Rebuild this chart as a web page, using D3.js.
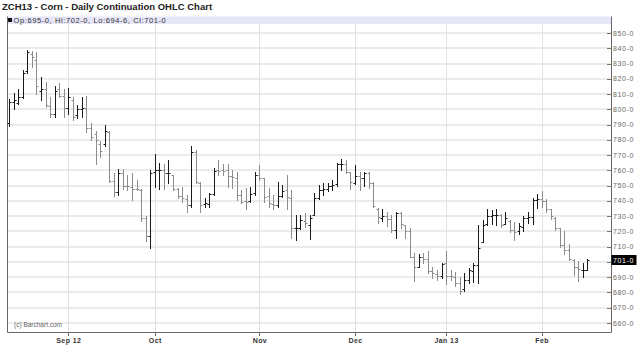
<!DOCTYPE html>
<html>
<head>
<meta charset="utf-8">
<script src="https://cdn.jsdelivr.net/npm/d3@7"></script>
<style>
body { margin: 0; background: #fff; }
svg { display: block; font-family: "Liberation Sans", Arial, sans-serif; }
</style>
</head>
<body>
<svg width="640" height="363"></svg>
<script>

// ---- data ----------------------------------------------------------------
var title = "ZCH13 - Corn - Daily Continuation OHLC Chart";
var firstDay = "2012-08-15";
var lastDay = "2013-02-15";
var holidays = ["2012-09-03", "2012-11-22", "2012-12-25", "2013-01-01", "2013-01-21"];

var monthTicks = ["2012-09", "2012-10", "2012-11", "2012-12", "2013-01", "2013-02"];
var monthLabels = ["Sep 12", "Oct", "Nov", "Dec", "Jan 13", "Feb"];

var priceTicks = [660, 670, 680, 690, 700, 710, 720, 730, 740, 750, 760, 770, 780, 790, 800, 810, 820, 830, 840, 850];

var open = [791, 805, 804, 808, 825, 836, 832, 812, 813, 802, 797, 813, 809,
    801, 806, 796, 800, 801, 788, 784, 777, 777, 785, 753, 746, 758, 750, 749, 748, 747, 729, 717,
    759, 760, 760, 758, 757, 748, 743, 741, 737, 772, 752, 738, 738, 744.5, 760, 760, 760, 756, 755, 744, 740, 740, 745,
    757, 755, 743, 738, 737, 743, 747, 742, 722, 722, 727, 724, 731, 742, 747, 748, 750, 751, 764, 764.5, 759, 752,
    756, 755, 758, 751.75, 735, 729, 730, 728, 721, 732, 724, 720, 703, 697, 703, 702, 694, 692, 691,
    699, 691, 690, 686, 682, 688, 694, 698, 713, 725, 730, 731, 731, 725, 727, 721, 720, 723, 729, 729.5, 740.5,
    741, 740, 735, 729, 722, 711, 708, 701, 697, 695, 695];
var high = [807, 810.5, 813.5, 825.5, 839, 838.5, 837.5, 821, 818, 808, 815, 817, 813,
    814, 808, 803, 808, 809, 791, 786, 779, 790, 786, 758, 761, 761, 757, 758, 753.5, 748, 730, 760,
    771, 765, 764.5, 766.5, 757, 748.25, 749.25, 744, 776, 773.25, 752.5, 741.75, 745, 761.25, 766.75, 764.5, 764.5, 760.25, 759, 747, 748.25, 749.25, 759,
    763.5, 755, 748.25, 744, 752.5, 750.5, 757, 747, 730.75, 730.75, 731.75, 731, 745.5, 750.5, 752, 752, 754, 765, 767.5, 767, 759,
    763.5, 759, 759, 759, 752.5, 735.5, 734.5, 733, 731, 733, 733, 724.25, 722, 706, 705, 706, 707, 697, 695,
    699, 707, 694.75, 693.5, 690, 692.5, 695.75, 699, 724.25, 727.5, 735, 734, 734.5, 731.5, 733, 727.5, 726.5, 725.5, 730, 732.5, 741.75,
    744.5, 746.5, 741.5, 735, 729.5, 722, 720, 711.5, 702, 700.5, 699, 702];
var low = [789, 800.5, 803.5, 807.5, 823.5, 828, 810, 806, 801.5, 795, 795, 808, 795,
    797, 793, 794, 795, 785, 780, 764, 768.5, 776, 752.5, 743, 744, 748, 747, 740.5, 747, 727, 714, 709,
    749, 748, 748, 751.5, 747, 741.75, 739.5, 733, 736, 751.5, 733, 736.25, 736.25, 744, 757, 757, 749.25, 748.25, 740.5, 738.5, 735, 739.5, 744,
    753.75, 739.5, 736.25, 735, 736.25, 742.75, 735, 715.5, 714.5, 721.5, 723, 715, 731, 741, 743.75, 746.5, 747, 749.5, 760, 758.5, 748,
    751, 747, 750, 748.5, 736.25, 725.25, 727, 723.5, 719.5, 716, 722, 715.5, 703.5, 687.5, 697, 699, 693, 689.5, 688.5,
    689.5, 685.5, 688.25, 684, 679, 681, 686, 687, 686, 713, 724, 725, 724, 723, 725, 719.5, 714.5, 718, 720, 725.5, 725,
    735.5, 736, 733, 728, 721, 710, 705, 701, 691.5, 687.5, 690.25, 694.75];
var close = [805, 806, 808, 824, 837.5, 834, 815, 813, 803, 797, 812, 809, 801,
    808, 795, 800, 801, 788, 782, 780, 773, 786, 753, 746, 758, 750, 749.5, 748, 747.5, 729, 717, 758,
    760, 760.5, 758, 758, 748, 743, 741.75, 737.25, 772, 752.5, 737.25, 738.5, 744.5, 759.75, 759.75, 759.75, 756, 755.5, 744, 739.5, 739.5, 744.5, 757,
    754.75, 742.75, 738.5, 737.25, 743.25, 746.5, 742.75, 722, 722.5, 727.5, 725.75, 729, 742, 747, 747.5, 750, 750.5, 764.5, 764.5, 759, 752.5,
    756, 754.75, 758, 751.75, 736.5, 729.75, 730, 728, 721, 732, 725, 720, 703.5, 697, 703, 702, 694, 692.5, 691,
    698.5, 691, 690.5, 686, 681, 688, 694.5, 698, 709, 724, 730, 731, 731, 724.5, 728.5, 721, 719.75, 723.5, 729, 729.5, 740.5,
    741, 740, 735, 730, 722, 711, 708, 702, 697, 695.5, 695, 701];

// ---- layout --------------------------------------------------------------
var svg = d3.select("svg");
var plotLeft = 7, plotRight = 611, plotTop = 16.5, plotBottom = 332;

var parse = d3.utcParse("%Y-%m-%d");
var fmtDay = d3.utcFormat("%Y-%m-%d");
var fmtMonth = d3.utcFormat("%Y-%m");

var days = d3.utcDay.range(parse(firstDay), d3.utcDay.offset(parse(lastDay), 1))
    .filter(function(d) { return d.getUTCDay() !== 0 && d.getUTCDay() !== 6; })
    .map(fmtDay)
    .filter(function(d) { return holidays.indexOf(d) < 0; });

var bars = days.map(function(d, i) {
    return { day: d, o: open[i], h: high[i], l: low[i], c: close[i] };
});

var x = d3.scalePoint().domain(days).range([9.1, 587.2]);
var y = d3.scaleLinear().domain([660, 850]).range([323, 33]);

function px(v) { return Math.round(v) + 0.5; }

// eighths notation: 694.75 -> 694-6
function fmtPrice(v) {
    var whole = Math.floor(v);
    return whole + "-" + Math.round((v - whole) * 8);
}

// first trading day of each labelled month
var tickDays = monthTicks.map(function(m) {
    return days.find(function(d) { return fmtMonth(parse(d)) === m; });
});

// ---- grid ----------------------------------------------------------------
svg.append("g")
    .selectAll("line")
    .data(priceTicks)
    .enter().append("line")
    .attr("x1", plotLeft).attr("x2", plotRight)
    .attr("y1", function(d) { return Math.round(y(d)); })
    .attr("y2", function(d) { return Math.round(y(d)); })
    .attr("stroke", "#ebebeb")
    .attr("stroke-width", 2);

svg.append("g")
    .selectAll("line")
    .data(tickDays)
    .enter().append("line")
    .attr("x1", function(d) { return px(x(d)); })
    .attr("x2", function(d) { return px(x(d)); })
    .attr("y1", plotTop).attr("y2", plotBottom)
    .attr("stroke", "#e2e2e2")
    .attr("stroke-width", 1);

// legend band
svg.append("rect")
    .attr("x", plotLeft).attr("y", plotTop)
    .attr("width", plotRight - plotLeft).attr("height", 7.5)
    .attr("fill", "#e6e6f8");

var last = bars[bars.length - 1];
svg.append("rect")
    .attr("x", 8).attr("y", 18)
    .attr("width", 4).attr("height", 4)
    .attr("fill", "#111");
svg.append("text")
    .attr("x", 13.5).attr("y", 22.5)
    .attr("font-size", 7.5)
    .attr("letter-spacing", 0.6)
    .attr("fill", "#333")
    .text("Op:" + fmtPrice(last.o) + ", Hi:" + fmtPrice(last.h) + ", Lo:" + fmtPrice(last.l) + ", Cl:" + fmtPrice(last.c));

// frame
svg.append("path")
    .attr("d", "M" + (plotLeft + 0.5) + "," + plotTop + "V" + (plotBottom + 0.5) + "H" + (plotRight + 0.5) + "V" + plotTop)
    .attr("fill", "none")
    .attr("stroke", "#666")
    .attr("stroke-width", 1);

// ---- right axis ----------------------------------------------------------
var yAxis = svg.append("g");
yAxis.selectAll("line")
    .data(priceTicks)
    .enter().append("line")
    .attr("x1", plotRight - 4).attr("x2", plotRight)
    .attr("y1", function(d) { return px(y(d)); })
    .attr("y2", function(d) { return px(y(d)); })
    .attr("stroke", "#777");

yAxis.selectAll("text")
    .data(priceTicks.filter(function(d) { return Math.abs(y(d) - y(last.c)) > 8; }))
    .enter().append("text")
    .attr("x", plotRight + 2)
    .attr("y", function(d) { return y(d) + 2.5; })
    .attr("font-size", 7)
    .attr("letter-spacing", 0.6)
    .attr("fill", "#666")
    .text(function(d) { return fmtPrice(d); });

// last price box
svg.append("rect")
    .attr("x", plotRight + 0.5).attr("y", Math.round(y(last.c)) - 5)
    .attr("width", 25).attr("height", 10)
    .attr("fill", "#000");
svg.append("text")
    .attr("x", plotRight + 2)
    .attr("y", y(last.c) + 2.5)
    .attr("font-size", 7)
    .attr("letter-spacing", 0.6)
    .attr("fill", "#fff")
    .text(fmtPrice(last.c));

// ---- bottom axis ---------------------------------------------------------
var xAxis = svg.append("g");
xAxis.selectAll("line")
    .data(tickDays)
    .enter().append("line")
    .attr("x1", function(d) { return px(x(d)); })
    .attr("x2", function(d) { return px(x(d)); })
    .attr("y1", plotBottom).attr("y2", plotBottom + 4)
    .attr("stroke", "#666");

xAxis.selectAll("text")
    .data(tickDays)
    .enter().append("text")
    .attr("x", function(d) { return x(d) + 0.5; })
    .attr("y", plotBottom + 11)
    .attr("text-anchor", "middle")
    .attr("font-size", 7)
    .attr("letter-spacing", 0.4)
    .attr("font-weight", "bold")
    .attr("fill", "#333")
    .text(function(d, i) { return monthLabels[i]; });

// ---- OHLC bars -----------------------------------------------------------
var barG = svg.append("g")
    .selectAll("g")
    .data(bars)
    .enter().append("g")
    .attr("stroke", function(d) { return d.c >= d.o ? "#1a1a1a" : "#8c8c8c"; })
    .attr("stroke-width", 1);

barG.append("line")
    .attr("x1", function(d) { return px(x(d.day)); })
    .attr("x2", function(d) { return px(x(d.day)); })
    .attr("y1", function(d) { return Math.round(y(d.h)); })
    .attr("y2", function(d) { return Math.round(y(d.l)) + 1; });

barG.append("line")
    .attr("x1", function(d) { return px(x(d.day)) - 2; })
    .attr("x2", function(d) { return px(x(d.day)); })
    .attr("y1", function(d) { return px(y(d.o)); })
    .attr("y2", function(d) { return px(y(d.o)); });

barG.append("line")
    .attr("x1", function(d) { return px(x(d.day)); })
    .attr("x2", function(d) { return px(x(d.day)) + 2; })
    .attr("y1", function(d) { return px(y(d.c)); })
    .attr("y2", function(d) { return px(y(d.c)); });

// ---- texts ---------------------------------------------------------------
svg.append("text")
    .attr("x", 2).attr("y", 10)
    .attr("font-size", 9.5)
    .attr("font-weight", "bold")
    .attr("fill", "#222")
    .text(title);

svg.append("text")
    .attr("x", 14).attr("y", 327)
    .attr("font-size", 6.5)
    .attr("fill", "#666")
    .text("(c) Barchart.com");

</script>
</body>
</html>
